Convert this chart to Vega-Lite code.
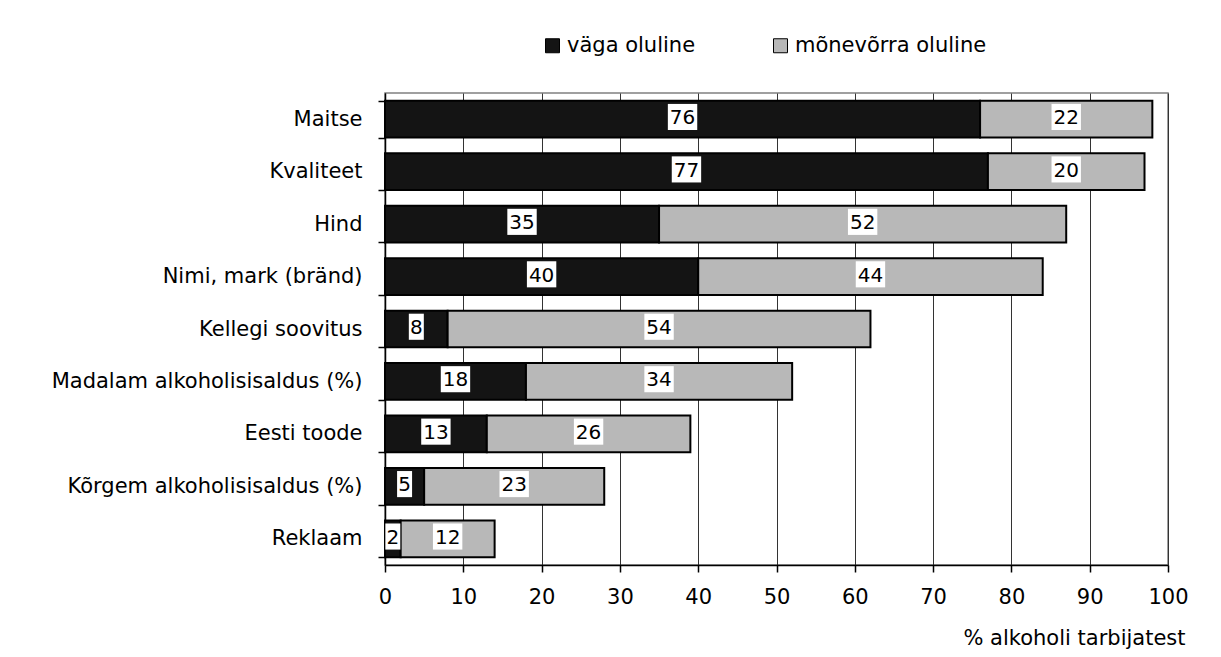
{
  "$schema": "https://vega.github.io/schema/vega-lite/v6.json",
  "width": 783,
  "height": 472,
  "autosize": "none",
  "padding": {"left": 385, "top": 93, "right": 53, "bottom": 92},
  "background": "white",
  "config": {
    "font": "DejaVu Sans",
    "view": {"stroke": "#808080", "strokeWidth": 1.5},
    "axis": {"labelColor": "black", "titleColor": "black", "labelFontSize": 21, "titleFontSize": 21, "titleFontWeight": "normal", "labelFont": "DejaVu Sans", "titleFont": "DejaVu Sans", "labelLimit": 0},
    "legend": {"labelFontSize": 21, "labelColor": "black", "labelFont": "DejaVu Sans", "labelLimit": 0}
  },
  "data": {
    "values": [
      {"category": "Maitse", "series": "väga oluline", "value": 76},
      {"category": "Maitse", "series": "mõnevõrra oluline", "value": 22},
      {"category": "Kvaliteet", "series": "väga oluline", "value": 77},
      {"category": "Kvaliteet", "series": "mõnevõrra oluline", "value": 20},
      {"category": "Hind", "series": "väga oluline", "value": 35},
      {"category": "Hind", "series": "mõnevõrra oluline", "value": 52},
      {"category": "Nimi, mark (bränd)", "series": "väga oluline", "value": 40},
      {"category": "Nimi, mark (bränd)", "series": "mõnevõrra oluline", "value": 44},
      {"category": "Kellegi soovitus", "series": "väga oluline", "value": 8},
      {"category": "Kellegi soovitus", "series": "mõnevõrra oluline", "value": 54},
      {"category": "Madalam alkoholisisaldus (%)", "series": "väga oluline", "value": 18},
      {"category": "Madalam alkoholisisaldus (%)", "series": "mõnevõrra oluline", "value": 34},
      {"category": "Eesti toode", "series": "väga oluline", "value": 13},
      {"category": "Eesti toode", "series": "mõnevõrra oluline", "value": 26},
      {"category": "Kõrgem alkoholisisaldus (%)", "series": "väga oluline", "value": 5},
      {"category": "Kõrgem alkoholisisaldus (%)", "series": "mõnevõrra oluline", "value": 23},
      {"category": "Reklaam", "series": "väga oluline", "value": 2},
      {"category": "Reklaam", "series": "mõnevõrra oluline", "value": 12}
    ]
  },
  "encoding": {
    "y": {
      "field": "category",
      "type": "nominal",
      "sort": null,
      "title": null,
      "scale": {"paddingInner": 0.3, "paddingOuter": 0.15},
      "axis": {
        "domainColor": "black",
        "domainWidth": 1.5,
        "tickColor": "black",
        "tickWidth": 1.5,
        "tickSize": 7,
        "tickBand": "extent",
        "labelPadding": 16,
        "grid": false
      }
    }
  },
  "layer": [
    {
      "mark": {"type": "bar", "stroke": "black", "strokeWidth": 2},
      "encoding": {
        "x": {
          "field": "value",
          "type": "quantitative",
          "stack": "zero",
          "scale": {"domain": [0, 100], "nice": false},
          "title": "% alkoholi tarbijatest",
          "axis": {
            "values": [0, 10, 20, 30, 40, 50, 60, 70, 80, 90, 100],
            "grid": true,
            "gridColor": "#333333",
            "gridWidth": 1,
            "gridOpacity": 1,
            "domainColor": "black",
            "domainWidth": 1.5,
            "tickColor": "black",
            "tickWidth": 1.5,
            "tickSize": 7,
            "labelPadding": 14,
            "labelFlush": false,
            "titleAnchor": "end",
            "titleAlign": "right",
            "titleX": 800,
            "titlePadding": 20
          }
        },
        "color": {
          "field": "series",
          "type": "nominal",
          "scale": {"domain": ["väga oluline", "mõnevõrra oluline"], "range": ["#141414", "#b8b8b8"]},
          "legend": {
            "title": null,
            "orient": "none",
            "direction": "horizontal",
            "legendX": 157,
            "legendY": -58,
            "symbolType": "square",
            "symbolSize": 196,
            "symbolStrokeColor": "black",
            "symbolStrokeWidth": 1,
            "symbolOpacity": 1,
            "labelOffset": 4,
            "columnPadding": 74
          }
        },
        "order": {"field": "series", "sort": "descending"}
      }
    },
    {
      "mark": {"type": "point", "filled": true, "color": "white", "opacity": 1, "size": 900, "strokeWidth": 0},
      "encoding": {
        "x": {"field": "value", "type": "quantitative", "stack": "zero", "bandPosition": 0.5},
        "detail": {"field": "series"},
        "order": {"field": "series", "sort": "descending"},
        "shape": {
          "field": "value",
          "type": "quantitative",
          "scale": {"type": "threshold", "domain": [10], "range": ["M-0.5,-1.02H0.5V0.72H-0.5Z", "M-0.98,-1.02H0.98V0.72H-0.98Z"]},
          "legend": null
        }
      }
    },
    {
      "mark": {"type": "text", "fontSize": 20, "color": "black", "baseline": "middle", "dy": -1},
      "encoding": {
        "x": {"field": "value", "type": "quantitative", "stack": "zero", "bandPosition": 0.5},
        "detail": {"field": "series"},
        "order": {"field": "series", "sort": "descending"},
        "text": {"field": "value", "type": "quantitative"}
      }
    }
  ]
}
